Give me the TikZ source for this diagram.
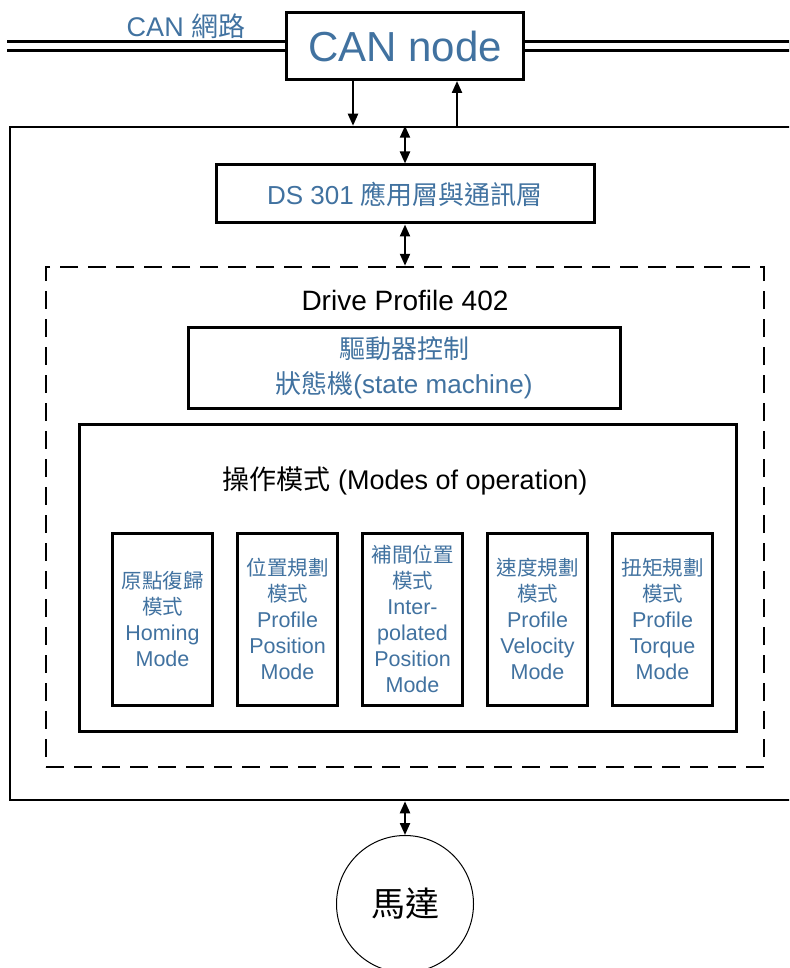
\documentclass[tikz,border=0pt]{standalone}
\usepackage{fontspec}
\setmainfont{Liberation Sans}
\newfontfamily\cjk{Noto Sans CJK TC}
\usepackage{xcolor}
\usepackage{tikz}
\usetikzlibrary{arrows.meta, calc}
\definecolor{canblue}{RGB}{65,114,160}
\newcommand{\zh}[1]{{\cjk #1}}
\newcommand{\zhs}[1]{{\cjk\fontsize{20.5}{26}\selectfont #1}}

\begin{document}
\begin{tikzpicture}[x=1pt, y=-1pt,
  box/.style={rectangle, draw=black, line width=3pt, fill=white,
              inner sep=0pt, align=center, text=canblue},
  modebox/.style={box, minimum width=100pt, minimum height=172pt,
                  font=\fontsize{21.5}{26}\selectfont},
  arr/.style={-{Triangle[length=12pt, width=10pt]}, line width=2.2pt},
  darr/.style={{Triangle[length=12pt, width=10pt]}-{Triangle[length=12pt, width=10pt]},
               line width=2.2pt},
  bus/.style={line width=3pt, double=white, double distance=6pt}
]
\useasboundingbox (0,0) rectangle (789,968);
\clip (0,0) rectangle (789,968);
%% CAN bus and node
\coordinate (busL) at (7,46);
\coordinate (busR) at (800,46);
\node[box, minimum width=237pt, minimum height=67pt,
      font=\fontsize{42}{48}\selectfont] (can) at (405,46) {CAN node};
\node[text=canblue, font=\fontsize{27}{32}\selectfont] (net) at (186,26) {CAN \zh{網路}};
\draw[bus] (busL) -- (can);
\draw[bus] (can) -- (busR);
%% Drive (outer frame)
\node[box, line width=2.5pt, minimum width=790pt, minimum height=673pt] (drive) at (405,463.5) {};
\coordinate (canL) at ($(can.south)+(-52,0)$);
\coordinate (canR) at ($(can.south)+(52,0)$);
\draw[arr] (canL) -- (canL |- drive.north);
\draw[arr] (canR |- drive.north) -- (canR);
%% DS 301
\node[box, minimum width=378pt, minimum height=58pt,
      font=\fontsize{26}{32}\selectfont] (ds) at (405,194) {DS 301 \zh{應用層與通訊層}};
\draw[darr] (drive.north) -- (ds.north);
%% Drive Profile 402
\node[rectangle, draw, line width=2.5pt, dash pattern=on 18pt off 10pt,
      minimum width=718pt, minimum height=500pt] (dp) at (405,517) {};
\draw[darr] (ds.south) -- (dp.north);
\node[font=\fontsize{28}{34}\selectfont] (dptitle) at (405,300) {Drive Profile 402};
\node[box, minimum width=432pt, minimum height=81pt,
      font=\fontsize{26}{35}\selectfont] (sm) at (404,367.5)
      {\zh{驅動器控制}\\\zh{狀態機}(state machine)};
%% Modes of operation
\node[box, minimum width=657pt, minimum height=307pt] (ops) at (407.5,577.5) {};
\node[font=\fontsize{27}{32}\selectfont] (opstitle) at (405,481) {\zh{操作模式} (Modes of operation)};
\foreach \i/\txt in {
  0/{\zhs{原點復歸}\\\zhs{模式}\\Homing\\Mode},
  1/{\zhs{位置規劃}\\\zhs{模式}\\Profile\\Position\\Mode},
  2/{\zhs{補間位置}\\\zhs{模式}\\Inter-\\polated\\Position\\Mode},
  3/{\zhs{速度規劃}\\\zhs{模式}\\Profile\\Velocity\\Mode},
  4/{\zhs{扭矩規劃}\\\zhs{模式}\\Profile\\Torque\\Mode}}{
  \node[modebox] (m\i) at (162.5+125*\i,619) {\txt};}
%% Motor
\node[circle, draw, line width=1pt, minimum size=137pt, inner sep=0pt,
      font=\fontsize{34}{40}\selectfont\cjk] (motor) at (405,904) {馬達};
\draw[darr] (drive.south) -- (motor.north);
\end{tikzpicture}
\end{document}
